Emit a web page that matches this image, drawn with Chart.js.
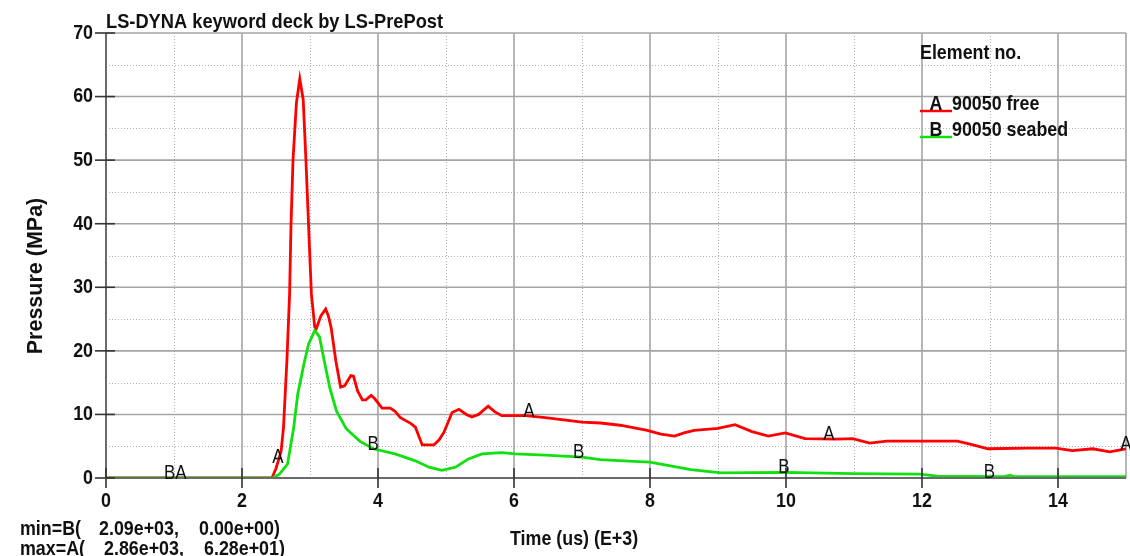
<!DOCTYPE html>
<html>
<head>
<meta charset="utf-8">
<script src="https://cdn.jsdelivr.net/npm/chart.js@4.4.0/dist/chart.umd.min.js"></script>
<style>
  html, body { margin: 0; padding: 0; background: #fff; }
  #wrap { width: 1130px; height: 556px; }
</style>
</head>
<body>
<div id="wrap"><canvas id="chart" width="1130" height="556"></canvas></div>
<script>
// curve A: element 90050 free
const timeA = [0, 1.0, 2.44, 2.5, 2.575, 2.61, 2.66, 2.70, 2.72, 2.75, 2.80, 2.85, 2.90, 2.94, 2.98,
  3.02, 3.07, 3.09, 3.16, 3.23, 3.27, 3.31, 3.38, 3.45, 3.51, 3.60, 3.64, 3.70, 3.77, 3.82,
  3.90, 3.95, 4.06, 4.18, 4.25, 4.33, 4.48, 4.55, 4.65, 4.82, 4.90, 4.97, 5.09, 5.19, 5.30,
  5.38, 5.48, 5.62, 5.72, 5.82, 6.17, 6.46, 7.00, 7.27, 7.56, 7.96, 8.16, 8.36, 8.50, 8.65,
  9.00, 9.25, 9.50, 9.74, 9.99, 10.28, 10.73, 10.98, 11.23, 11.48, 11.97, 12.52, 12.72, 12.97, 13.56,
  13.97, 14.21, 14.51, 14.76, 15.0];
const pressA = [0, 0, 0, 1.5, 4.2, 7.9, 18.4, 29, 39.5, 50, 59, 62.8, 59.5, 50, 39.5,
  29, 23.7, 23.4, 25.5, 26.6, 25.5, 23.7, 18.4, 14.3, 14.5, 16.1, 16.0, 13.7, 12.3, 12.3,
  13.0, 12.5, 11.0, 11.0, 10.5, 9.5, 8.6, 8.0, 5.2, 5.2, 6.0, 7.2, 10.3, 10.8, 10.0,
  9.6, 10.0, 11.3, 10.4, 9.8, 9.8, 9.5, 8.8, 8.65, 8.3, 7.5, 6.9, 6.6, 7.1, 7.5,
  7.8, 8.4, 7.3, 6.6, 7.1, 6.2, 6.1, 6.2, 5.5, 5.8, 5.8, 5.8, 5.3, 4.6, 4.7,
  4.7, 4.3, 4.6, 4.1, 4.6];

// curve B: element 90050 seabed
const timeB = [0, 2.45, 2.55, 2.67, 2.76, 2.82, 2.92, 2.98, 3.07, 3.14, 3.21, 3.29, 3.39, 3.53, 3.73,
  3.93, 4.25, 4.55, 4.75, 4.94, 5.14, 5.33, 5.53, 5.82, 6.02, 6.46, 7.00, 7.27, 7.76, 8.00,
  8.26, 8.60, 9.05, 9.99, 10.98, 11.97, 12.22, 13.20, 13.30, 13.35, 15.0];
const pressB = [0, 0, 0.6, 2.2, 7.9, 13.2, 18.4, 21.1, 23.2, 22.2, 18.4, 14.2, 10.5, 7.8, 5.8,
  4.6, 3.8, 2.7, 1.7, 1.2, 1.7, 3.0, 3.8, 4.0, 3.8, 3.6, 3.3, 2.9, 2.6, 2.5,
  2.0, 1.3, 0.8, 0.9, 0.7, 0.6, 0.3, 0.2, 0.45, 0.2, 0.2];

// where the letters sit on the curves
const markA = [2.53, 6.22, 10.63, 15.0];
const markB = [3.93, 6.95, 9.97, 12.99];
const markBA = [1.02];

// axis ticks
const xMajor = [0, 2, 4, 6, 8, 10, 12, 14];
const xMinor = [1, 3, 5, 7, 9, 11, 13];
const yMajor = [0, 10, 20, 30, 40, 50, 60, 70];
const yMinor = [5, 15, 25, 35, 45, 55, 65];

const FONT = '"Liberation Sans", Arial, sans-serif';
const SX = 0.85;   // the LS-PrePost lettering is narrow

function interp(xs, ys, x) {
  for (let i = 1; i < xs.length; i++) {
    if (x <= xs[i]) {
      const t = (x - xs[i-1]) / (xs[i] - xs[i-1]);
      return ys[i-1] + t * (ys[i] - ys[i-1]);
    }
  }
  return ys[ys.length - 1];
}

function seg(ctx, x1, y1, x2, y2) {
  ctx.beginPath(); ctx.moveTo(x1, y1); ctx.lineTo(x2, y2); ctx.stroke();
}

// narrow text: squeeze horizontally around the anchor
function txt(ctx, s, x, y, align, baseline, sx) {
  ctx.save();
  ctx.translate(x, y);
  ctx.scale(sx || SX, 1);
  ctx.textAlign = align || 'left';
  ctx.textBaseline = baseline || 'alphabetic';
  ctx.fillText(s, 0, 0);
  ctx.restore();
}

const deckPlugin = {
  id: 'deck',
  beforeDatasetsDraw(chart) {
    const {ctx, chartArea: a, scales: {x, y}} = chart;
    ctx.save();
    // dotted minor grid
    ctx.strokeStyle = '#b0b0b0';
    ctx.lineWidth = 1;
    ctx.setLineDash([1, 2]);
    xMinor.forEach(v => { const p = Math.round(x.getPixelForValue(v)) + 0.5; seg(ctx, p, a.top, p, a.bottom); });
    yMinor.forEach(v => { const p = Math.round(y.getPixelForValue(v)) + 0.5; seg(ctx, a.left, p, a.right, p); });
    // solid major grid
    ctx.setLineDash([]);
    ctx.strokeStyle = '#a4a4a4';
    ctx.lineWidth = 1.6;
    xMajor.concat([x.max]).forEach(v => { const p = x.getPixelForValue(v); seg(ctx, p, a.top, p, a.bottom); });
    yMajor.forEach(v => { const p = y.getPixelForValue(v); seg(ctx, a.left, p, a.right, p); });
    ctx.restore();
  },
  afterDatasetsDraw(chart) {
    const {ctx, chartArea: a, scales: {x, y}} = chart;
    ctx.save();
    // axes
    ctx.strokeStyle = '#6a6a6a';
    ctx.lineWidth = 2;
    seg(ctx, a.left, a.top, a.left, a.bottom);
    seg(ctx, a.left, a.bottom, a.right, a.bottom);
    // tick marks crossing the axes
    ctx.strokeStyle = '#333';
    ctx.lineWidth = 1.6;
    x.ticks.forEach(t => { const p = x.getPixelForValue(t.value); seg(ctx, p, a.bottom - 10, p, a.bottom + 10); });
    y.ticks.forEach(t => { const p = y.getPixelForValue(t.value); seg(ctx, a.left - 11, p, a.left + 9, p); });

    // tick labels
    ctx.fillStyle = '#111';
    ctx.font = 'bold 21px ' + FONT;
    x.ticks.forEach(t => txt(ctx, String(t.value), x.getPixelForValue(t.value), a.bottom + 23, 'center', 'middle'));
    y.ticks.forEach(t => txt(ctx, String(t.value), a.left - 13, y.getPixelForValue(t.value), 'right', 'middle'));

    // curve letters
    ctx.font = '20px ' + FONT;
    markA.forEach(v => txt(ctx, 'A', x.getPixelForValue(v), y.getPixelForValue(interp(timeA, pressA, v)) + 1, 'center'));
    markB.forEach(v => txt(ctx, 'B', x.getPixelForValue(v), y.getPixelForValue(interp(timeB, pressB, v)) + 1, 'center'));
    markBA.forEach(v => txt(ctx, 'BA', x.getPixelForValue(v), y.getPixelForValue(0) + 1, 'center'));
    ctx.restore();
  },
  afterDraw(chart) {
    const {ctx} = chart;
    ctx.save();
    ctx.fillStyle = '#111';
    ctx.font = 'bold 21px ' + FONT;
    txt(ctx, 'LS-DYNA keyword deck by LS-PrePost', 106, 28, 'left', 'alphabetic', 0.87);

    // legend
    txt(ctx, 'Element no.', 920, 59);
    ctx.lineWidth = 2.5;
    ctx.strokeStyle = '#ff0000';
    seg(ctx, 920, 111, 952, 111);
    ctx.strokeStyle = '#10e010';
    seg(ctx, 920, 137, 952, 137);
    txt(ctx, 'A', 936, 110, 'center');
    txt(ctx, 'B', 936, 136, 'center');
    txt(ctx, '90050 free', 952, 110);
    txt(ctx, '90050 seabed', 952, 136);

    // axis titles
    txt(ctx, 'Time (us) (E+3)', 510, 545);
    ctx.save();
    ctx.translate(36, 276);
    ctx.rotate(-Math.PI / 2);
    ctx.font = 'bold 21.5px ' + FONT;
    ctx.textAlign = 'center';
    ctx.textBaseline = 'middle';
    ctx.fillText('Pressure (MPa)', 0, 0);
    ctx.restore();

    // min / max read-out
    txt(ctx, 'min=B(', 20, 535);
    txt(ctx, '2.09e+03,', 99, 535);
    txt(ctx, '0.00e+00)', 199, 535);
    txt(ctx, 'max=A(', 20, 555);
    txt(ctx, '2.86e+03,', 104, 555);
    txt(ctx, '6.28e+01)', 204, 555);
    ctx.restore();
  }
};

const ctx = document.getElementById('chart').getContext('2d');
const chart = new Chart(ctx, {
  type: 'line',
  data: {
    datasets: [
      {
        label: 'A 90050 free',
        data: timeA.map((t, i) => ({x: t, y: pressA[i]})),
        borderColor: '#ff0000',
        borderWidth: 2.8,
        pointRadius: 0,
        tension: 0,
        fill: false,
        order: 2
      },
      {
        label: 'B 90050 seabed',
        data: timeB.map((t, i) => ({x: t, y: pressB[i]})),
        borderColor: '#10e010',
        borderWidth: 2.8,
        pointRadius: 0,
        tension: 0,
        fill: false,
        order: 1
      }
    ]
  },
  options: {
    responsive: false,
    animation: false,
    devicePixelRatio: 1,
    layout: { padding: { top: 33, right: 4, left: 0, bottom: 0 } },
    plugins: { legend: { display: false }, tooltip: { enabled: false }, title: { display: false } },
    scales: {
      x: {
        type: 'linear',
        min: 0,
        max: 15,
        grid: { display: false },
        border: { display: false },
        afterBuildTicks: s => { s.ticks = xMajor.map(v => ({value: v})); },
        afterFit: s => { s.height = 78; },
        ticks: { display: false }
      },
      y: {
        min: 0,
        max: 70,
        grid: { display: false },
        border: { display: false },
        afterBuildTicks: s => { s.ticks = yMajor.map(v => ({value: v})); },
        afterFit: s => { s.width = 106; },
        ticks: { display: false }
      }
    }
  },
  plugins: [deckPlugin]
});
</script>
</body>
</html>
